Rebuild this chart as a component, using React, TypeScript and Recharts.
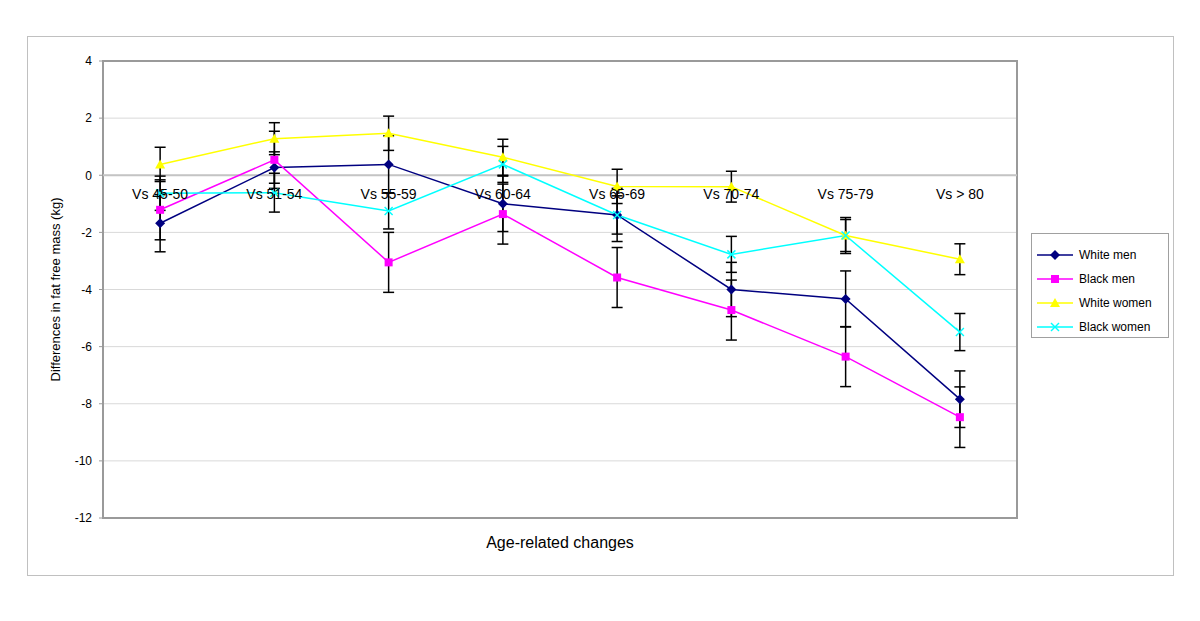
import {
  CartesianGrid,
  ErrorBar,
  Line,
  LineChart,
  ReferenceArea,
  ReferenceDot,
  ReferenceLine,
  XAxis,
  YAxis,
} from 'recharts';

const categories = ['Vs 45-50', 'Vs 51-54', 'Vs 55-59', 'Vs 60-64', 'Vs 65-69', 'Vs 70-74', 'Vs 75-79', 'Vs > 80'];

const whiteMen = [-1.68, 0.27, 0.38, -1.0, -1.39, -4.0, -4.33, -7.84];
const whiteMenErr = [1.0, 0.55, 1.0, 0.97, 0.67, 0.95, 0.98, 0.99];
const blackMen = [-1.21, 0.54, -3.05, -1.36, -3.58, -4.72, -6.35, -8.47];
const blackMenErr = [1.05, 1.0, 1.05, 1.05, 1.05, 1.05, 1.05, 1.06];
const whiteWomen = [0.38, 1.28, 1.47, 0.63, -0.39, -0.4, -2.11, -2.94];
const whiteWomenErr = [0.6, 0.56, 0.6, 0.63, 0.6, 0.54, 0.56, 0.54];
const blackWomen = [-0.63, -0.61, -1.25, 0.38, -1.39, -2.77, -2.11, -5.49];
const blackWomenErr = [0.6, 0.68, 0.63, 0.63, 0.93, 0.63, 0.63, 0.65];

const yTicks = [4, 2, 0, -2, -4, -6, -8, -10, -12];

type MarkerKind = 'diamond' | 'square' | 'triangle' | 'cross';

const series: { key: string; name: string; color: string; marker: MarkerKind }[] = [
  { key: 'whiteMen', name: 'White men', color: '#000080', marker: 'diamond' },
  { key: 'blackMen', name: 'Black men', color: '#FF00FF', marker: 'square' },
  { key: 'whiteWomen', name: 'White women', color: '#FFFF00', marker: 'triangle' },
  { key: 'blackWomen', name: 'Black women', color: '#00FFFF', marker: 'cross' },
];

const rows = categories.map((group, i) => ({
  group,
  whiteMen: whiteMen[i],
  whiteMenErr: whiteMenErr[i],
  blackMen: blackMen[i],
  blackMenErr: blackMenErr[i],
  whiteWomen: whiteWomen[i],
  whiteWomenErr: whiteWomenErr[i],
  blackWomen: blackWomen[i],
  blackWomenErr: blackWomenErr[i],
}));

const FONT = '"Liberation Sans", Arial, sans-serif';

function Marker({ kind, cx, cy, color }: { kind: MarkerKind; cx: number; cy: number; color: string }) {
  switch (kind) {
    case 'diamond':
      return <polygon points={`${cx},${cy - 5} ${cx + 5},${cy} ${cx},${cy + 5} ${cx - 5},${cy}`} fill={color} />;
    case 'square':
      return <rect x={cx - 4} y={cy - 4} width={8} height={8} fill={color} />;
    case 'triangle':
      return <polygon points={`${cx},${cy - 5} ${cx + 5},${cy + 4} ${cx - 5},${cy + 4}`} fill={color} />;
    default:
      return (
        <g stroke={color} strokeWidth={1.5}>
          <line x1={cx - 4} y1={cy - 4} x2={cx + 4} y2={cy + 4} />
          <line x1={cx - 4} y1={cy + 4} x2={cx + 4} y2={cy - 4} />
        </g>
      );
  }
}

function LegendBox() {
  return (
    <div
      style={{
        position: 'absolute',
        left: 1031,
        top: 233,
        width: 138,
        height: 105,
        border: '1px solid #a0a0a0',
        background: '#fff',
        fontFamily: FONT,
        fontSize: 12,
        boxSizing: 'border-box',
        paddingTop: 9,
      }}
    >
      {series.map((s) => (
        <div key={s.key} style={{ display: 'flex', alignItems: 'center', height: 24 }}>
          <svg width={44} height={12} style={{ marginLeft: 3 }}>
            <line x1={2} y1={6} x2={38} y2={6} stroke={s.color} strokeWidth={1.5} />
            <Marker kind={s.marker} cx={20} cy={6} color={s.color} />
          </svg>
          <span>{s.name}</span>
        </div>
      ))}
    </div>
  );
}

export default function App() {
  return (
    <div style={{ position: 'absolute', left: 0, top: 0, width: 1200, height: 621, background: '#fff' }}>
      <div
        style={{
          position: 'absolute',
          left: 27,
          top: 36,
          width: 1147,
          height: 540,
          border: '1px solid #c0c0c0',
          boxSizing: 'border-box',
        }}
      />
      <div style={{ position: 'absolute', left: 0, top: 0 }}>
        <LineChart
          width={1200}
          height={621}
          data={rows}
          margin={{ top: 61, right: 183, bottom: 63, left: 33 }}
          style={{ fontFamily: FONT }}
        >
          <CartesianGrid vertical={false} stroke="#d9d9d9" />
          <ReferenceArea
            x1={categories[0]}
            x2={categories[categories.length - 1]}
            y1={yTicks[yTicks.length - 1]}
            y2={yTicks[0]}
            fill="none"
            stroke="#9a9a9a"
            strokeWidth={2}
            fillOpacity={0}
            ifOverflow="visible"
          />
          <ReferenceLine y={0} stroke="#c4c4c4" strokeWidth={2} />
          <XAxis
            dataKey="group"
            scale="band"
            height={40}
            tick={false}
            axisLine={false}
            tickLine={false}
            label={{ value: 'Age-related changes', position: 'insideTop', offset: 19, fontSize: 16, fill: '#000' }}
          />
          <YAxis
            domain={[-12, 4]}
            ticks={yTicks}
            width={70}
            axisLine={false}
            tickLine={{ stroke: '#9a9a9a' }}
            tickSize={4}
            tickMargin={7}
            tick={{ fontSize: 12, fill: '#000' }}
            label={{
              value: 'Differences in fat free mass (kg)',
              angle: -90,
              position: 'insideLeft',
              offset: 22,
              fontSize: 13,
              fill: '#000',
              style: { textAnchor: 'middle' },
            }}
          />
          {series.map((s) => (
            <Line
              key={s.key}
              dataKey={s.key}
              name={s.name}
              stroke={s.color}
              strokeWidth={1.5}
              isAnimationActive={false}
              dot={(p: any) => <Marker key={`${s.key}-${p.index}`} kind={s.marker} cx={p.cx} cy={p.cy} color={s.color} />}
              activeDot={false}
            >
              <ErrorBar dataKey={`${s.key}Err`} width={5.5} stroke="#000" strokeWidth={1.5} direction="y" />
            </Line>
          ))}
          {categories.map((c) => (
            <ReferenceDot
              key={c}
              x={c}
              y={0}
              r={0}
              fill="none"
              stroke="none"
              label={{ value: c, position: 'bottom', offset: 14, fontSize: 14, fill: '#000' }}
            />
          ))}
        </LineChart>
      </div>
      <LegendBox />
    </div>
  );
}
